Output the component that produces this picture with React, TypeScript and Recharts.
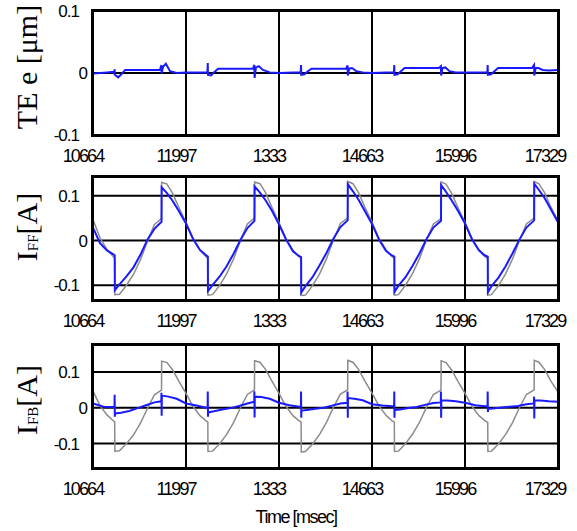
import { LineChart, Line, XAxis, YAxis, CartesianGrid } from "recharts";

// time axis [msec]
const X_MIN = 106.64;
const X_MAX = 173.29;
const xTicks = [106.64, 119.97, 133.3, 146.63, 159.96, 173.29];
const xTickLabels = ["10664", "11997", "1333", "14663", "15996", "17329"];
const yTicks = [-0.1, 0, 0.1];
const yTickLabels = ["-0.1", "0", "0.1"];

// TE e [um]
const teTime = [
  106.64, 108.64, 109.69, 109.74, 109.77, 110.24, 110.64, 111.24, 113.64, 116.24, 116.45, 116.48, 116.68, 117.08, 117.68, 118.64,
  119.97, 121.97, 123.04, 123.09, 123.12, 123.57, 123.97, 124.57, 126.97, 129.57, 129.77, 129.8, 130.0, 130.4, 131.0, 131.97,
  133.3, 135.3, 136.41, 136.46, 136.49, 136.95, 137.35, 137.95, 140.3, 142.9, 143.13, 143.16, 143.36, 143.76, 144.36, 145.3,
  146.63, 148.63, 149.77, 149.82, 149.85, 150.3, 150.7, 151.3, 153.63, 156.23, 156.51, 156.54, 156.74, 157.14, 157.74, 158.63,
  159.96, 161.96, 163.16, 163.21, 163.24, 163.7, 164.1, 164.7, 166.96, 169.56, 169.86, 169.89, 170.09, 170.49, 171.09, 171.96,
  173.29,
];
const teValues = [
  -0.001, 0.001, 0.002, 0.006, -0.003, -0.007, -0.003, 0.005, 0.005, 0.005, 0.013, -0.001, 0.01, 0.015, 0.003, 0.0,
  0.001, 0.001, 0.001, 0.016, -0.003, -0.004, 0.001, 0.007, 0.007, 0.007, 0.013, -0.008, 0.009, 0.011, 0.005, 0.001,
  0.0, 0.001, 0.001, 0.013, -0.003, -0.002, 0.002, 0.007, 0.007, 0.007, 0.012, -0.004, 0.007, 0.008, 0.003, 0.001,
  0.0, 0.001, 0.001, 0.013, -0.003, -0.002, 0.002, 0.008, 0.008, 0.008, 0.011, -0.004, 0.008, 0.009, 0.003, 0.001,
  0.001, 0.001, 0.001, 0.013, -0.003, -0.002, 0.002, 0.008, 0.008, 0.008, 0.013, -0.004, 0.008, 0.008, 0.005, 0.004,
  0.005,
];

// I_FF [A] (blue) and reference current (grey)
const iffTime = [
  106.64, 107.64, 108.64, 109.44, 109.75, 109.77, 110.44, 111.44, 112.44, 113.44, 114.44, 115.44, 116.46, 116.48, 117.24, 118.04, 118.94,
  119.97, 120.97, 121.97, 122.77, 123.1, 123.12, 123.77, 124.77, 125.77, 126.77, 127.77, 128.77, 129.78, 129.8, 130.57, 131.37, 132.27,
  133.3, 134.3, 135.3, 136.1, 136.47, 136.49, 137.1, 138.1, 139.1, 140.1, 141.1, 142.1, 143.14, 143.16, 143.9, 144.7, 145.6,
  146.63, 147.63, 148.63, 149.43, 149.83, 149.85, 150.43, 151.43, 152.43, 153.43, 154.43, 155.43, 156.52, 156.54, 157.23, 158.03, 158.93,
  159.96, 160.96, 161.96, 162.76, 163.22, 163.24, 163.76, 164.76, 165.76, 166.76, 167.76, 168.76, 169.87, 169.89, 170.56, 171.36, 172.26,
  173.29,
];
const iffValues = [
  0.029, -0.006, -0.022, -0.03, -0.033, -0.111, -0.098, -0.08, -0.06, -0.032, 0.002, 0.026, 0.042, 0.119, 0.106, 0.089, 0.066,
  0.038, 0.004, -0.021, -0.032, -0.036, -0.113, -0.1, -0.081, -0.058, -0.03, 0.001, 0.028, 0.044, 0.121, 0.107, 0.09, 0.067,
  0.036, 0.003, -0.024, -0.034, -0.037, -0.116, -0.102, -0.082, -0.056, -0.028, 0.004, 0.03, 0.045, 0.126, 0.11, 0.091, 0.066,
  0.037, 0.002, -0.023, -0.033, -0.036, -0.115, -0.101, -0.082, -0.057, -0.029, 0.003, 0.029, 0.044, 0.124, 0.109, 0.09, 0.067,
  0.038, 0.003, -0.022, -0.033, -0.036, -0.116, -0.102, -0.083, -0.058, -0.029, 0.002, 0.029, 0.045, 0.127, 0.113, 0.095, 0.07,
  0.041,
];
const refValues = [
  0.047, 0.006, -0.02, -0.034, -0.04, -0.121, -0.12, -0.1, -0.076, -0.043, -0.002, 0.036, 0.049, 0.13, 0.126, 0.106, 0.074,
  0.04, 0.004, -0.022, -0.035, -0.04, -0.122, -0.121, -0.101, -0.075, -0.042, 0.0, 0.037, 0.05, 0.131, 0.127, 0.107, 0.075,
  0.04, 0.004, -0.022, -0.035, -0.04, -0.123, -0.122, -0.101, -0.075, -0.041, 0.001, 0.038, 0.05, 0.132, 0.127, 0.107, 0.075,
  0.041, 0.005, -0.021, -0.035, -0.04, -0.122, -0.121, -0.1, -0.074, -0.041, 0.001, 0.037, 0.049, 0.131, 0.126, 0.106, 0.074,
  0.04, 0.004, -0.022, -0.035, -0.041, -0.122, -0.121, -0.101, -0.075, -0.042, 0.0, 0.037, 0.05, 0.132, 0.127, 0.107, 0.075,
  0.044,
];

// I_FB [A]
const ifbTime = [
  106.64, 108.14, 109.54, 109.72, 109.74, 109.77, 109.8, 110.64, 111.84, 113.04, 114.24, 115.44, 116.43, 116.45, 116.48, 116.51, 117.44, 118.64,
  119.97, 121.47, 122.87, 123.07, 123.09, 123.12, 123.15, 123.97, 125.17, 126.37, 127.57, 128.77, 129.75, 129.77, 129.8, 129.83, 130.77, 131.97,
  133.3, 134.8, 136.2, 136.44, 136.46, 136.49, 136.52, 137.3, 138.5, 139.7, 140.9, 142.1, 143.11, 143.13, 143.16, 143.19, 144.1, 145.3,
  146.63, 148.13, 149.53, 149.8, 149.82, 149.85, 149.88, 150.63, 151.83, 153.03, 154.23, 155.43, 156.49, 156.51, 156.54, 156.57, 157.43, 158.63,
  159.96, 161.46, 162.86, 163.19, 163.21, 163.24, 163.27, 163.96, 165.16, 166.36, 167.56, 168.76, 169.84, 169.86, 169.89, 169.92, 170.76, 171.96,
  173.29,
];
const ifbValues = [
  0.012, 0.003, 0.002, 0.003, 0.036, -0.025, -0.016, -0.014, -0.009, -0.001, 0.007, 0.015, 0.018, 0.042, -0.022, 0.034, 0.031, 0.025,
  0.012, 0.006, 0.0, 0.0, 0.045, -0.025, -0.013, -0.01, -0.005, -0.001, 0.005, 0.012, 0.017, 0.046, -0.027, 0.031, 0.03, 0.025,
  0.014, 0.007, 0.003, 0.003, 0.045, -0.028, -0.008, -0.006, -0.003, 0.0, 0.006, 0.012, 0.014, 0.045, -0.028, 0.027, 0.025, 0.021,
  0.01, 0.006, 0.004, 0.004, 0.045, -0.028, -0.006, -0.005, -0.001, 0.002, 0.008, 0.013, 0.015, 0.045, -0.028, 0.02, 0.02, 0.018,
  0.014, 0.007, 0.004, 0.004, 0.045, -0.012, -0.003, -0.002, 0.001, 0.003, 0.005, 0.01, 0.012, 0.031, -0.03, 0.02, 0.02, 0.018,
  0.017,
];

const teData = teTime.map((t, i) => ({ t, te: teValues[i] }));
const iffData = iffTime.map((t, i) => ({ t, ff: iffValues[i], ref: refValues[i] }));
const ifbData = ifbTime.map((t, i) => ({ t, fb: ifbValues[i] }));

const BLUE = "#1a1aff";
const GREY = "#8c8c8c";
const TICK_FONT = "'Liberation Sans', Arial, sans-serif";
const SERIF = "'Liberation Serif', 'Times New Roman', serif";
const PLOT_LEFT = 93;
const PLOT_W = 465;

function XTick(props: any) {
  const { x, payload, baseline } = props;
  const i = xTicks.indexOf(payload.value);
  return (
    <text x={x - 10} y={baseline} textAnchor="middle" fontFamily={TICK_FONT} fontSize={18} letterSpacing={-1.9} fill="#000">
      {xTickLabels[i]}
    </text>
  );
}

function YTick(props: any) {
  const { y, payload } = props;
  const i = yTicks.indexOf(payload.value);
  const label = yTickLabels[i];
  return (
    <text x={label === "0" ? 87 : 79} y={y + 6} textAnchor="end" fontFamily={TICK_FONT} fontSize={17} letterSpacing={-1} fill="#000">
      {label}
    </text>
  );
}

function Panel({ plotTop, plotH, domain, children }: any) {
  const axisH = 40;
  const baseline = 10 + plotH + 27;
  return (
    <>
      <div style={{ position: "absolute", left: 0, top: plotTop - 10 }}>
        <LineChart width={577} height={10 + plotH + axisH} margin={{ top: 10, right: 577 - PLOT_LEFT - PLOT_W, bottom: 0, left: 0 }}>
          <CartesianGrid stroke="#000" strokeWidth={2} />
          <XAxis
            type="number"
            dataKey="t"
            domain={[X_MIN, X_MAX]}
            ticks={xTicks}
            allowDataOverflow
            height={axisH}
            tickLine={false}
            axisLine={false}
            tick={(p: any) => <XTick {...p} baseline={baseline} />}
          />
          <YAxis
            type="number"
            domain={domain}
            ticks={yTicks}
            allowDataOverflow
            width={PLOT_LEFT}
            tickLine={false}
            axisLine={false}
            tick={(p: any) => <YTick {...p} />}
          />
          {children}
        </LineChart>
      </div>
      {/* heavy plot frame */}
      <div
        style={{
          position: "absolute",
          left: PLOT_LEFT - 2,
          top: plotTop - 2,
          width: PLOT_W + 4,
          height: plotH + 4,
          border: "3.5px solid #000",
          boxSizing: "border-box",
          pointerEvents: "none",
        }}
      />
    </>
  );
}

export default function App() {
  return (
    <div style={{ position: "absolute", left: 0, top: 0, width: 577, height: 531, background: "#fff" }}>
      <Panel plotTop={11} plotH={124} domain={[-0.1, 0.1]}>
        <Line data={teData} dataKey="te" type="linear" stroke={BLUE} strokeWidth={2} dot={false} isAnimationActive={false} />
      </Panel>
      <Panel plotTop={177} plotH={123} domain={[-0.133, 0.142]}>
        <Line data={iffData} dataKey="ref" type="linear" stroke={GREY} strokeWidth={1.5} dot={false} isAnimationActive={false} />
        <Line data={iffData} dataKey="ff" type="linear" stroke={BLUE} strokeWidth={2} dot={false} isAnimationActive={false} />
      </Panel>
      <Panel plotTop={345} plotH={123} domain={[-0.168, 0.175]}>
        <Line data={iffData} dataKey="ref" type="linear" stroke={GREY} strokeWidth={1.5} dot={false} isAnimationActive={false} />
        <Line data={ifbData} dataKey="fb" type="linear" stroke={BLUE} strokeWidth={2} dot={false} isAnimationActive={false} />
      </Panel>
      <svg width={577} height={531} style={{ position: "absolute", left: 0, top: 0, pointerEvents: "none" }}>
        <text transform="rotate(-90 37 67)" x={37} y={67} textAnchor="middle" fontFamily={SERIF} fontSize={30} fill="#000">
          TE e [μm]
        </text>
        <text transform="rotate(-90 37 227)" x={37} y={227} textAnchor="middle" fontFamily={SERIF} fontSize={30} fill="#000">
          I<tspan fontSize={15} dy={1}>FF</tspan>
          <tspan dy={-1}>[A]</tspan>
        </text>
        <text transform="rotate(-90 37 400)" x={37} y={400} textAnchor="middle" fontFamily={SERIF} fontSize={30} fill="#000">
          I<tspan fontSize={15} dy={1}>FB</tspan>
          <tspan dy={-1}>[A]</tspan>
        </text>
        <text x={296} y={523} textAnchor="middle" fontFamily={TICK_FONT} fontSize={18} letterSpacing={-1.5} fill="#000">
          Time [msec]
        </text>
      </svg>
    </div>
  );
}
